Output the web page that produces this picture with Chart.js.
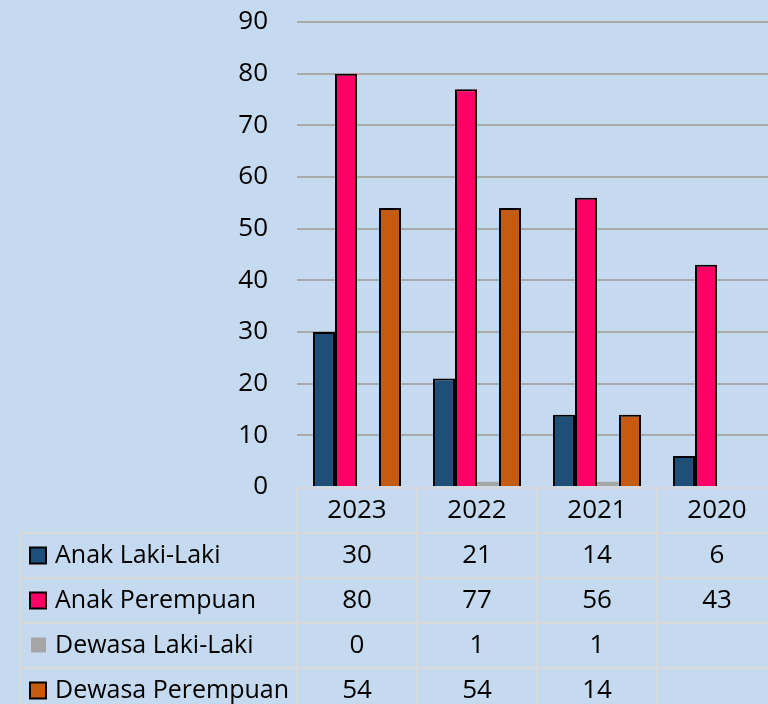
<!DOCTYPE html>
<html>
<head>
<meta charset="utf-8">
<script src="https://cdn.jsdelivr.net/npm/chart.js@4/dist/chart.umd.min.js"></script>
<style>
  html, body { margin: 0; padding: 0; background: #c5d9ef; }
  #wrap { width: 768px; height: 704px; overflow: hidden; position: relative; }
  #box { width: 777px; height: 704px; }
</style>
</head>
<body>
<div id="wrap"><div id="box"><canvas id="chart"></canvas></div></div>
<script>
const years = ['2023', '2022', '2021', '2020'];
const anakLaki = [30, 21, 14, 6];
const anakPerempuan = [80, 77, 56, 43];
const dewasaLaki = [0, 1, 1, null];
const dewasaPerempuan = [54, 54, 14, null];
const yTicks = [0, 10, 20, 30, 40, 50, 60, 70, 80, 90];

const FONT = '"Open Sans", Lato, sans-serif';
const lineColor = '#d9d9d9';

// tabel data di bawah grafik, kolom diambil dari skala x
const dataTable = {
  id: 'dataTable',
  afterDraw(chart) {
    const ctx = chart.ctx;
    const x = chart.scales.x;
    const area = chart.chartArea;
    const band = x.getPixelForValue(1) - x.getPixelForValue(0);
    const top = area.bottom + 1;
    const rowH = 45;
    const tableLeft = 20;
    const right = chart.width;

    ctx.save();
    ctx.strokeStyle = lineColor;
    ctx.lineWidth = 2;
    ctx.beginPath();
    ctx.moveTo(area.left, top); ctx.lineTo(right, top);
    for (let r = 1; r <= 4; r++) {
      const y = top + r * rowH;
      ctx.moveTo(tableLeft, y); ctx.lineTo(right, y);
    }
    ctx.moveTo(tableLeft, top + rowH); ctx.lineTo(tableLeft, chart.height);
    for (let i = 0; i < years.length; i++) {
      const xl = x.getPixelForValue(i) - band / 2;
      ctx.moveTo(xl, top); ctx.lineTo(xl, chart.height);
    }
    ctx.stroke();

    ctx.font = '26px ' + FONT;
    ctx.fillStyle = '#000';
    ctx.textBaseline = 'middle';
    ctx.textAlign = 'center';
    years.forEach((yr, i) => {
      ctx.fillText(yr, x.getPixelForValue(i), top + rowH / 2);
    });

    chart.data.datasets.forEach((ds, r) => {
      const cy = top + rowH * (r + 1) + rowH / 2;
      // penanda legenda
      if (ds.borderWidth > 0) {
        ctx.fillStyle = ds.backgroundColor;
        ctx.fillRect(30, cy - 8, 16, 16);
        ctx.strokeStyle = '#000';
        ctx.lineWidth = 2;
        ctx.strokeRect(30, cy - 8, 16, 16);
      } else {
        ctx.fillStyle = ds.backgroundColor;
        ctx.fillRect(31, cy - 8, 15, 15);
      }
      ctx.fillStyle = '#000';
      ctx.textAlign = 'left';
      ctx.font = '25px ' + FONT;
      ctx.fillText(ds.label, 55, cy);
      ctx.font = '26px ' + FONT;
      ctx.textAlign = 'center';
      ds.data.forEach((v, i) => {
        if (v === null) return;
        ctx.fillText(String(v), x.getPixelForValue(i), cy);
      });
    });
    ctx.restore();
  }
};

new Chart(document.getElementById('chart'), {
  type: 'bar',
  data: {
    labels: years,
    datasets: [
      { label: 'Anak Laki-Laki', data: anakLaki, backgroundColor: '#1f4e79', borderColor: '#000', borderWidth: 2 },
      { label: 'Anak Perempuan', data: anakPerempuan, backgroundColor: '#ff0066', borderColor: '#000', borderWidth: 2 },
      { label: 'Dewasa Laki-Laki', data: dewasaLaki, backgroundColor: '#a6a6a6', borderWidth: 0 },
      { label: 'Dewasa Perempuan', data: dewasaPerempuan, backgroundColor: '#c55a11', borderColor: '#000', borderWidth: 2 }
    ]
  },
  options: {
    responsive: true,
    maintainAspectRatio: false,
    animation: false,
    layout: { padding: { top: 22, bottom: 217, left: 0, right: 0 } },
    datasets: {
      bar: { categoryPercentage: 0.733, barPercentage: 1 }
    },
    plugins: {
      legend: { display: false },
      tooltip: { enabled: false }
    },
    scales: {
      x: { display: false },
      y: {
        min: 0,
        max: 90,
        afterBuildTicks: (s) => { s.ticks = yTicks.map(v => ({ value: v })); },
        afterFit: (s) => { s.width = 297; s.paddingTop = 0; s.paddingBottom = 0; },
        border: { display: false },
        grid: {
          drawTicks: false,
          lineWidth: 2,
          color: (c) => c.tick && c.tick.value === 0 ? 'rgba(0,0,0,0)' : '#aaaaaa'
        },
        ticks: {
          padding: 29,
          color: '#000',
          font: { family: FONT, size: 26 }
        }
      }
    }
  },
  plugins: [dataTable]
});
</script>
</body>
</html>
